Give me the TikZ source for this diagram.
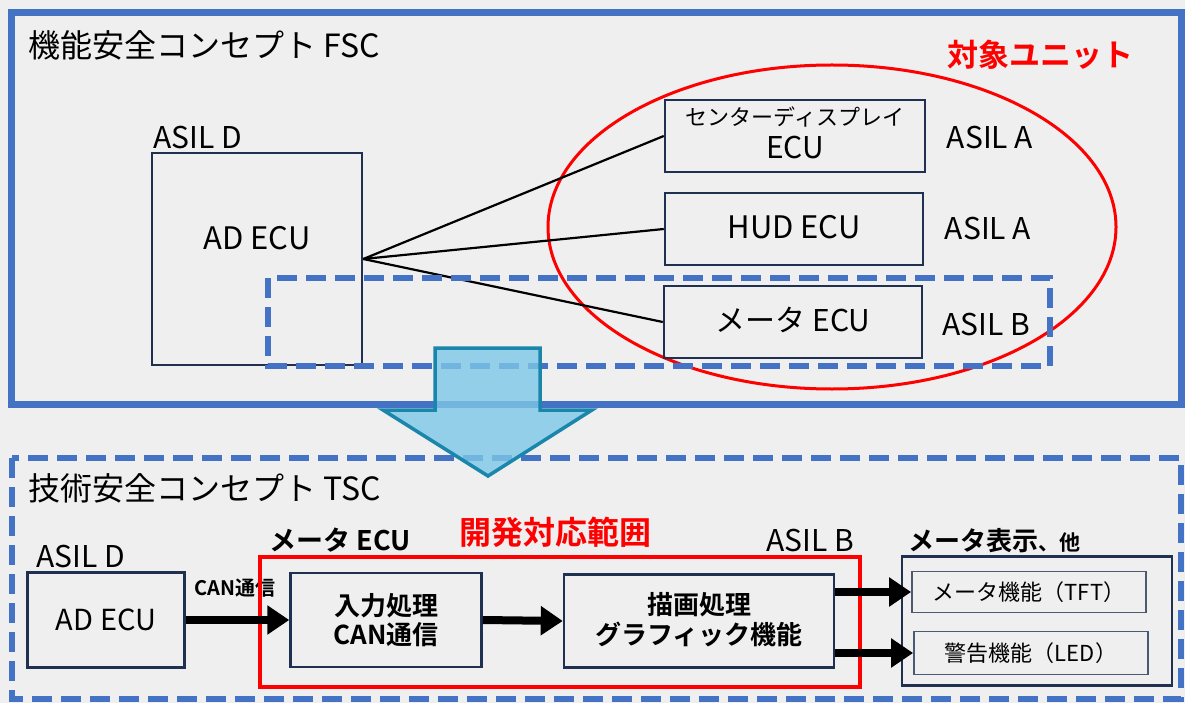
\documentclass[tikz,border=0pt]{standalone}
\usepackage{fontspec}
\setmainfont{Noto Sans CJK JP}[BoldFont={Noto Sans CJK JP Bold}]
\usetikzlibrary{arrows.meta,shapes.geometric}
\definecolor{bg}{HTML}{EFEFEF}
\definecolor{fscblue}{HTML}{4472C4}
\definecolor{navy}{HTML}{1F3050}
\definecolor{arrfill}{HTML}{7EC8E8}
\definecolor{arredge}{HTML}{1A86AC}
\definecolor{redc}{HTML}{FF0000}
\newcommand{\fs}[1]{\fontsize{#1}{#1}\selectfont}
\begin{document}
\begin{tikzpicture}[x=1pt,y=-1pt,
  ecubox/.style={draw=navy, line width=2.5pt, inner sep=0pt, align=center},
  subbox/.style={draw=navy!80, line width=1.8pt, inner sep=0pt, align=center},
  lbl/.style={inner sep=0pt, align=center},
  bluedash/.style={draw=fscblue, line width=6pt, dash pattern=on 20pt off 9pt},
  link/.style={line width=2.2pt, black},
  bigarrow/.style={line width=8pt, black, -{Triangle[length=22pt,width=28pt]}}]
\useasboundingbox (0,0) rectangle (1185,703);
\fill[bg] (0,0) rectangle (1185,703);
% FSC frame
\draw[fscblue, line width=7pt] (11,13) rectangle (1181,404);
\node[lbl, anchor=west] (fsct) at (28,45) {\fs{32}機能安全コンセプト FSC};
% red ellipse
\node[draw=redc, line width=3pt, ellipse, minimum width=568pt, minimum height=324pt, inner sep=0pt] (unit) at (832,227) {};
\node[lbl, text=redc] (unitl) at (1040,55) {\fs{31}\bfseries 対象ユニット};
% AD ECU FSC
\node[ecubox, minimum width=210pt, minimum height=212pt] (adf) at (257,259) {};
\node[lbl] (adfl) at (257,238) {\fs{31}AD ECU};
\node[lbl, anchor=west] (asild1) at (153,138) {\fs{30}ASIL D};
% unit boxes
\node[ecubox, minimum width=260pt, minimum height=72pt] (cd) at (795,136) {};
\node[lbl] (cdl1) at (795,117) {\fs{22}センターディスプレイ};
\node[lbl] (cdl2) at (795,148) {\fs{30}ECU};
\node[ecubox, minimum width=258pt, minimum height=72pt] (hud) at (794,229) {};
\node[lbl] (hudl) at (794,227) {\fs{31}HUD ECU};
\node[ecubox, minimum width=258pt, minimum height=72pt] (mtr) at (793,322) {};
\node[lbl] (mtrl) at (793,320) {\fs{30}メータ ECU};
\node[lbl] (asa1) at (990,138) {\fs{30}ASIL A};
\node[lbl] (asa2) at (988,229) {\fs{30}ASIL A};
\node[lbl] (asb1) at (986,325) {\fs{30}ASIL B};
\draw[link] (adf.east) -- (cd.west);
\draw[link] (adf.east) -- (hud.west);
\draw[link] (adf.east) -- (mtr.west);
% dashed scope
\draw[bluedash] (268,278) rectangle (1050,366);
% TSC frame
\draw[bluedash] (12,458) rectangle (1181,699);
\node[lbl, anchor=west] (tsct) at (28,488) {\fs{32}技術安全コンセプト TSC};
% TSC content
\node[lbl] (asild2) at (81,557) {\fs{30}ASIL D};
\node[ecubox, minimum width=157pt, minimum height=95pt] (adt) at (106,620) {\fs{29}AD ECU};
\node[lbl] (canl) at (235,588) {\fs{20}\bfseries CAN通信};
\draw[redc, line width=4pt] (260,557) rectangle (860,687);
\node[lbl] (mecu) at (340,540) {\fs{27}\bfseries メータ ECU};
\node[lbl, text=redc] (dev) at (555,532) {\fs{32}\bfseries 開発対応範囲};
\node[lbl] (asb2) at (810,541) {\fs{30}ASIL B};
\node[lbl] (disp) at (994,541) {\fs{26}\bfseries メータ表示{\fs{21}、他}};
\node[ecubox, minimum width=191pt, minimum height=94pt] (inp) at (386,620) {};
\node[lbl] (inpl) at (386,620) {\fs{26}\bfseries 入力処理\\[4pt]\fs{26}\bfseries CAN通信};
\node[ecubox, minimum width=270pt, minimum height=93pt] (drw) at (699,621) {};
\node[lbl] (drwl) at (699,620) {\fs{26}\bfseries 描画処理\\[4pt]\fs{26}\bfseries グラフィック機能};
\node[ecubox, minimum width=270pt, minimum height=129pt] (outb) at (1037,621) {};
\node[subbox, minimum width=234pt, minimum height=41pt] (tft) at (1029,592) {\fs{22}メータ機能（TFT）};
\node[subbox, minimum width=234pt, minimum height=43pt] (led) at (1031,653) {\fs{22}警告機能（LED）};
\draw[bigarrow] (adt.east) -- (inp.west);
\draw[bigarrow] (inp.east) -- (drw.west);
\draw[bigarrow] (drw.east |- tft.west) -- (tft.west);
\draw[bigarrow] (drw.east |- led.west) -- (led.west);
% big down arrow
\draw[draw=arredge, line width=3.5pt, fill=arrfill, fill opacity=0.8, line join=miter]
  (435,348) -- (540,348) -- (540,410) -- (592,410) -- (488,476) -- (383,410) -- (435,410) -- cycle;
\end{tikzpicture}
\end{document}
